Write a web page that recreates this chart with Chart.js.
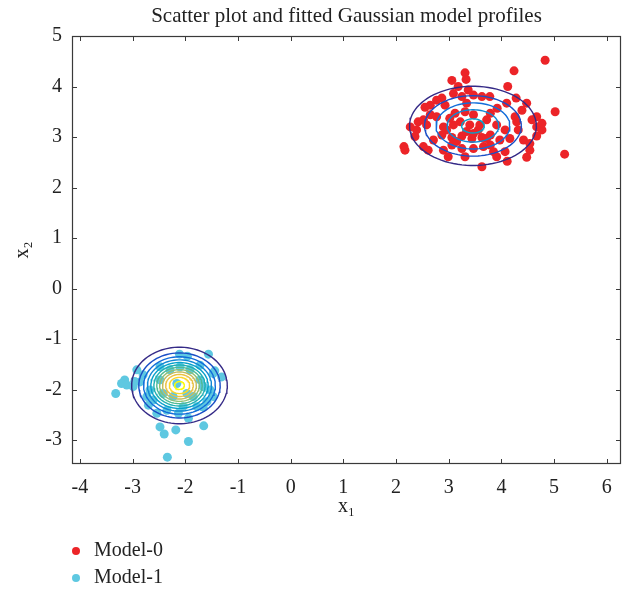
<!DOCTYPE html>
<html>
<head>
<meta charset="utf-8">
<title>Scatter plot and fitted Gaussian model profiles</title>
<script src="https://cdn.jsdelivr.net/npm/chart.js@4.4.0/dist/chart.umd.min.js"></script>
<style>
  html, body { margin: 0; padding: 0; background: #fff; }
  #wrap { width: 627px; height: 590px; }
</style>
</head>
<body>
<div id="wrap"><canvas id="grafico" width="627" height="590"></canvas></div>
<script>
// Observed samples per model
const model0X = [4.83, 4.24, 3.31, 3.33, 3.06, 4.12, 5.02, 5.20, 2.15, 2.17, 3.63, 4.48, 4.11,
  2.87, 3.09, 3.25, 3.47, 3.63, 2.93, 3.34, 2.65, 2.55, 4.28, 4.48, 3.92, 2.77,
  2.42, 2.39, 2.52, 2.65, 2.77, 3.12, 3.31, 3.47, 3.72, 3.91, 4.07, 4.26, 4.58, 4.67, 4.77, 4.32,
  3.22, 3.40, 3.56, 3.34, 3.09, 2.96, 3.79, 2.58,
  2.87, 3.06, 3.25, 3.44, 3.63, 3.79, 3.97, 4.42, 4.54, 4.67, 2.52, 2.61, 2.90, 3.06, 3.25, 3.47,
  3.66, 3.85, 3.91, 4.07, 3.79, 2.36, 2.27, 2.71, 3.15, 4.16, 4.29, 4.39, 4.10, 3.78, 3.02, 3.59,
  2.90, 3.47, 3.72, 4.67, 4.77, 4.54, 3.37, 3.18, 3.31, 2.99];
const model0Y = [4.52, 4.31, 4.27, 4.14, 4.12, 4.00, 3.50, 2.66, 2.81, 2.74, 2.41, 2.60, 2.52,
  3.77, 3.86, 3.80, 3.83, 3.80, 3.63, 3.67, 3.63, 3.59, 3.77, 3.67, 3.57, 3.73,
  3.30, 3.14, 3.34, 3.44, 3.40, 3.47, 3.50, 3.44, 3.34, 3.24, 3.14, 3.40, 3.34, 3.20, 3.14, 3.14,
  3.30, 3.24, 3.14, 3.11, 3.24, 3.14, 3.47, 3.24,
  3.04, 2.99, 3.02, 2.97, 2.99, 3.04, 2.94, 2.94, 2.87, 3.02, 2.81, 2.74, 2.74, 2.84, 2.77, 2.77,
  2.81, 2.71, 2.61, 2.71, 2.84, 3.01, 3.20, 2.94, 2.91, 2.97, 3.30, 3.53, 3.67, 3.80, 3.37, 3.24,
  3.20, 3.07, 2.97, 3.40, 3.27, 2.74, 3.93, 4.00, 2.61, 2.61];

const model1X = [-2.11, -1.96, -1.56, -2.92, -3.15, -3.21, -3.11, -3.32, -2.99, -2.86, -1.44, -1.31,
  -1.72, -1.78, -1.94, -1.66, -2.48, -2.40, -2.18, -1.65, -1.94, -2.34, -2.67, -2.73, -2.61,
  -1.53, -1.47, -2.35, -2.04, -2.29, -1.91, -2.10, -2.48, -2.96, -1.47, -2.70, -2.48, -1.72,
  -2.23, -1.97, -2.16, -1.85, -2.42, -1.66, -2.80, -2.54, -2.13, -1.59];
const model1Y = [-1.30, -1.34, -1.30, -1.61, -1.81, -1.88, -1.91, -2.08, -1.94, -1.85, -1.63, -1.75,
  -1.52, -2.34, -2.57, -2.35, -2.74, -2.88, -2.80, -2.72, -3.03, -3.34, -2.01, -2.14, -2.21,
  -2.01, -2.14, -2.41, -2.34, -1.61, -1.61, -1.55, -1.55, -1.84, -1.68, -2.31, -1.81, -1.81,
  -2.14, -2.08, -1.88, -2.14, -2.08, -1.94, -1.71, -2.47, -2.47, -2.24];

// Fitted Gaussian components (diagonal covariance)
const seriesNames = ['Model-0', 'Model-1'];
const meanX = [3.46, -2.11];
const meanY = [3.22, -1.92];
const sigmaX = [0.66, 0.405];
const sigmaY = [0.43, 0.338];
const mixWeight = [0.47, 0.53];
const contourLevels = [0.05, 0.10, 0.15, 0.20, 0.25, 0.30, 0.35, 0.40, 0.45, 0.50, 0.55, 0.60];

const xTicks = [-4, -3, -2, -1, 0, 1, 2, 3, 4, 5, 6];
const yTicks = [-3, -2, -1, 0, 1, 2, 3, 4, 5];

const pointColors = ['#ec2428', '#5ec8e1'];
const serif = '"Liberation Serif", "Times New Roman", serif';

// parula-like colour ramp for the contour levels
const rampStops = ['#352a87', '#0f5cdd', '#1481d6', '#06a4ca', '#2eb7a4', '#87bf77', '#d1bb59', '#fec832', '#f9fb0e'];
function rampColor(t) {
  const pos = Math.min(Math.max(t, 0), 1) * (rampStops.length - 1);
  const i = Math.min(Math.floor(pos), rampStops.length - 2);
  const f = pos - i;
  const a = parseInt(rampStops[i].slice(1), 16), b = parseInt(rampStops[i + 1].slice(1), 16);
  const mix = s => Math.round(((a >> s) & 255) * (1 - f) + ((b >> s) & 255) * f);
  return `rgb(${mix(16)},${mix(8)},${mix(0)})`;
}

// iso-density ellipses of each component
function contourDatasets() {
  const sets = [];
  for (let m = 0; m < meanX.length; m++) {
    const peak = mixWeight[m] / (2 * Math.PI * sigmaX[m] * sigmaY[m]);
    contourLevels.forEach((lvl, k) => {
      if (lvl >= peak) return;
      const r = Math.sqrt(2 * Math.log(peak / lvl));
      const pts = [];
      for (let i = 0; i <= 90; i++) {
        const th = (i / 90) * 2 * Math.PI;
        pts.push({ x: meanX[m] + r * sigmaX[m] * Math.cos(th), y: meanY[m] + r * sigmaY[m] * Math.sin(th) });
      }
      sets.push({
        label: 'nivel',
        data: pts,
        showLine: true,
        pointRadius: 0,
        borderWidth: 1.4,
        borderColor: rampColor(k / (contourLevels.length - 1)),
        fill: false,
        tension: 0,
        order: 1
      });
    });
  }
  return sets;
}

const scatterSets = [
  { label: seriesNames[0], data: model0X.map((x, i) => ({ x, y: model0Y[i] })) },
  { label: seriesNames[1], data: model1X.map((x, i) => ({ x, y: model1Y[i] })) }
].map((d, i) => Object.assign(d, {
  pointRadius: 4.5,
  pointBackgroundColor: pointColors[i],
  pointBorderWidth: 0,
  showLine: false,
  order: 2,
  leyenda: true
}));

// box, inward ticks on all four sides, and the legend under the axes
const marcoEjes = {
  id: 'marcoEjes',
  afterDatasetsDraw(chart) {
    const { ctx, chartArea: a, scales: { x, y } } = chart;
    ctx.save();
    ctx.strokeStyle = '#3a3a3a';
    ctx.lineWidth = 1;
    ctx.beginPath();
    xTicks.forEach(v => {
      const px = Math.round(x.getPixelForValue(v)) + 0.5;
      ctx.moveTo(px, a.bottom); ctx.lineTo(px, a.bottom - 5);
      ctx.moveTo(px, a.top); ctx.lineTo(px, a.top + 5);
    });
    yTicks.forEach(v => {
      const py = Math.round(y.getPixelForValue(v)) + 0.5;
      ctx.moveTo(a.left, py); ctx.lineTo(a.left + 5, py);
      ctx.moveTo(a.right, py); ctx.lineTo(a.right - 5, py);
    });
    ctx.stroke();
    ctx.lineWidth = 1.2;
    ctx.strokeRect(Math.round(a.left) + 0.5, Math.round(a.top) + 0.5, Math.round(a.width) - 1, Math.round(a.height) - 1);
    ctx.restore();
  },
  afterDraw(chart) {
    const { ctx } = chart;
    ctx.save();
    ctx.font = '20px ' + serif;
    ctx.textBaseline = 'middle';
    chart.data.datasets.filter(d => d.leyenda).forEach((d, i) => {
      const yy = 551 + i * 27;
      ctx.beginPath();
      ctx.fillStyle = pointColors[i];
      ctx.arc(76, yy, 4, 0, 2 * Math.PI);
      ctx.fill();
      ctx.fillStyle = '#222';
      ctx.fillText(d.label, 94, yy);
    });
    ctx.restore();
  }
};

const fuenteEjes = { family: serif, size: 20 };

new Chart(document.getElementById('grafico').getContext('2d'), {
  type: 'scatter',
  data: { datasets: contourDatasets().concat(scatterSets) },
  options: {
    responsive: false,
    animation: false,
    events: [],
    layout: { padding: { left: 0, right: 6, top: 0, bottom: 0 } },
    plugins: {
      legend: { display: false },
      tooltip: { enabled: false },
      title: {
        display: true,
        fullSize: false,
        text: 'Scatter plot and fitted Gaussian model profiles',
        color: '#222',
        font: { family: serif, size: 21, weight: 'normal' },
        padding: { top: 4, bottom: 6.8 }
      }
    },
    scales: {
      x: {
        type: 'linear',
        min: -4.15,
        max: 6.27,
        afterFit: s => { s.height = 126; },
        afterBuildTicks: s => { s.ticks = xTicks.map(v => ({ value: v })); },
        grid: { display: false, drawTicks: false },
        border: { display: false },
        ticks: { color: '#222', font: fuenteEjes, padding: 12, maxRotation: 0 },
        title: { display: true, text: 'x₁', color: '#222', font: fuenteEjes, padding: { top: 0, bottom: 71 } }
      },
      y: {
        type: 'linear',
        min: -3.475,
        max: 5,
        afterFit: s => { s.width = 72; },
        afterBuildTicks: s => { s.ticks = yTicks.map(v => ({ value: v })); },
        grid: { display: false, drawTicks: false },
        border: { display: false },
        ticks: { color: '#222', font: fuenteEjes, padding: 10 },
        title: { display: true, text: 'x₂', color: '#222', font: fuenteEjes, padding: { top: 11, bottom: 0 } }
      }
    }
  },
  plugins: [marcoEjes]
});
</script>
</body>
</html>
